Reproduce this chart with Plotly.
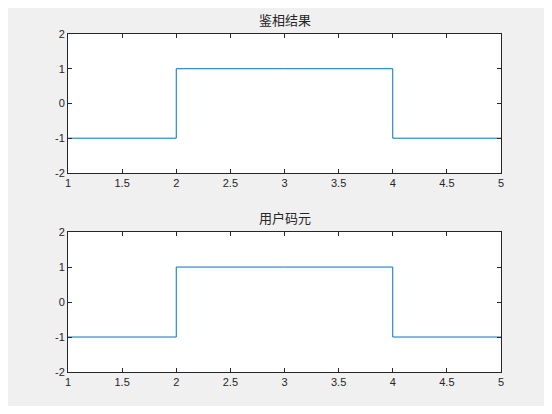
import plotly.graph_objects as go

x_vals = [1, 2, 3, 4, 5]
result_vals = [-1, 1, 1, -1, -1]
code_vals = [-1, 1, 1, -1, -1]
titles = ["鉴相结果", "用户码元"]
x_ticks = [1, 1.5, 2, 2.5, 3, 3.5, 4, 4.5, 5]
y_ticks = [-2, -1, 0, 1, 2]

fig = go.Figure()
fig.add_trace(go.Scatter(x=x_vals, y=result_vals, mode="lines", line_shape="hv",
                         line=dict(color="#0072BD", width=1), xaxis="x", yaxis="y"))
fig.add_trace(go.Scatter(x=x_vals, y=code_vals, mode="lines", line_shape="hv",
                         line=dict(color="#0072BD", width=1), xaxis="x2", yaxis="y2"))

ax = dict(showgrid=False, zeroline=False, showline=True, mirror="ticks", linecolor="#262626",
          linewidth=1, ticks="inside", ticklen=4, tickcolor="#262626",
          tickfont=dict(family="Liberation Sans, Arial", size=11, color="#262626"))
xcommon = dict(ax, range=[1, 5], tickvals=x_ticks, ticktext=[f"{v:g}" for v in x_ticks])
ycommon = dict(ax, range=[-2, 2], tickvals=y_ticks, ticktext=[str(v) for v in y_ticks])

fig.update_layout(
    width=536, height=398, showlegend=False,
    paper_bgcolor="#f0f0f0", plot_bgcolor="white",
    margin=dict(l=60, r=43, t=26, b=34),
    xaxis=dict(xcommon, domain=[0, 1], anchor="y"),
    yaxis=dict(ycommon, domain=[0.589, 1], anchor="x"),
    xaxis2=dict(xcommon, domain=[0, 1], anchor="y2"),
    yaxis2=dict(ycommon, domain=[0, 0.414], anchor="x2"),
    annotations=[
        dict(text=titles[0], x=0.5, y=1, xref="paper", yref="paper", yanchor="bottom",
             yshift=3, showarrow=False, font=dict(family="Noto Sans CJK SC", size=13, color="#262626")),
        dict(text=titles[1], x=0.5, y=0.414, xref="paper", yref="paper", yanchor="bottom",
             yshift=3, showarrow=False, font=dict(family="Noto Sans CJK SC", size=13, color="#262626")),
    ],
)
fig.write_html("out.html")
